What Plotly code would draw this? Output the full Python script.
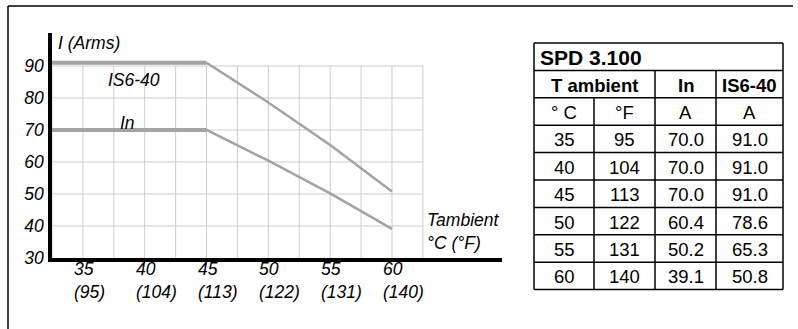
import plotly.graph_objects as go

# ---- data ----
temps_c = [35, 40, 45, 50, 55, 60]
temps_f = [95, 104, 113, 122, 131, 140]
in_vals = [70.0, 70.0, 70.0, 60.4, 50.2, 39.1]
is6_vals = [91.0, 91.0, 91.0, 78.6, 65.3, 50.8]
y_ticks = [30, 40, 50, 60, 70, 80, 90]
table_title = "SPD 3.100"
col_headers = ["T ambient", "In", "IS6-40"]
unit_row = ["° C", "°F", "A", "A"]

W, H = 798, 329
X0, X1 = 32.5, 68.9      # x axis range (data)
Y0, Y1 = 30, 100.3       # y axis range (data)
GRID_X = [32.5 + 2.5 * i for i in range(13)]
GRID_Y = [40, 50, 60, 70, 80, 90]

def px(x):
    return x / W

def py(y):
    return 1 - y / H

FONT = "Liberation Sans, Arial, sans-serif"
LINE_COL = "#a3a3a3"
GRID_COL = "#cccccc"
ISZ = 17.5   # italic chart text size
TSZ = 18.5   # table text size

fig = go.Figure()

# derating curves: flat part thicker, sloped part thinner
for vals in (is6_vals, in_vals):
    flat_x = [X0] + temps_c[:3]
    flat_y = [vals[0]] + vals[:3]
    fig.add_trace(go.Scatter(x=flat_x, y=flat_y, mode="lines",
                             line=dict(color=LINE_COL, width=4), hoverinfo="skip"))
    fig.add_trace(go.Scatter(x=temps_c[2:], y=vals[2:], mode="lines",
                             line=dict(color=LINE_COL, width=2.5), hoverinfo="skip"))

shapes = []
# grid
for gx in GRID_X:
    shapes.append(dict(type="line", xref="x", yref="y", x0=gx, x1=gx, y0=30, y1=90,
                       line=dict(color=GRID_COL, width=1), layer="below"))
for gy in GRID_Y:
    shapes.append(dict(type="line", xref="x", yref="y", x0=X0, x1=62.5, y0=gy, y1=gy,
                       line=dict(color=GRID_COL, width=1), layer="below"))

# outer frame (top and left lines)
shapes.append(dict(type="line", xref="paper", yref="paper", x0=px(8), x1=px(793),
                   y0=py(6), y1=py(6), line=dict(color="black", width=1.5)))
shapes.append(dict(type="line", xref="paper", yref="paper", x0=px(8), x1=px(8),
                   y0=py(6), y1=py(329), line=dict(color="black", width=1.5)))

annotations = []
ann_font = dict(family=FONT, size=ISZ, style="italic", color="black")
# x tick labels (two lines, left aligned)
for c, f in zip(temps_c, temps_f):
    annotations.append(dict(x=c, y=py(257), xref="x", yref="paper", xanchor="left",
                            yanchor="top", xshift=-11, align="left", showarrow=False,
                            text=f"{c}<br>({f})", font=ann_font))

annotations += [
    dict(x=px(56), y=py(43), xref="paper", yref="paper", xanchor="left", yanchor="middle",
         text="I (Arms)", showarrow=False, font=ann_font),
    dict(x=px(106), y=py(80), xref="paper", yref="paper", xanchor="left", yanchor="middle",
         text="IS6-40", showarrow=False, font=ann_font),
    dict(x=px(118), y=py(123), xref="paper", yref="paper", xanchor="left", yanchor="middle",
         text="In", showarrow=False, font=ann_font),
    dict(x=px(425), y=py(231), xref="paper", yref="paper", xanchor="left", yanchor="middle",
         align="left", text="Tambient<br>°C (°F)", showarrow=False, font=ann_font),
]

# ---- table drawn with shapes + text ----
col_x = [534, 594, 655, 716, 783]
top = 43
row_h = 27.4
n_rows = 3 + len(temps_c)
row_y = [top + i * row_h for i in range(n_rows + 1)]
bw = 1.5
def hline(x0, x1, y):
    shapes.append(dict(type="line", xref="paper", yref="paper", x0=px(x0), x1=px(x1),
                       y0=py(y), y1=py(y), line=dict(color="black", width=bw)))
def vline(x, y0, y1):
    shapes.append(dict(type="line", xref="paper", yref="paper", x0=px(x), x1=px(x),
                       y0=py(y0), y1=py(y1), line=dict(color="black", width=bw)))

for y in row_y:
    hline(col_x[0], col_x[-1], y)
vline(col_x[0], row_y[0], row_y[-1])
vline(col_x[-1], row_y[0], row_y[-1])
vline(col_x[1], row_y[2], row_y[-1])
vline(col_x[2], row_y[1], row_y[-1])
vline(col_x[3], row_y[1], row_y[-1])

def cell_text(text, xc, yc, bold=False, anchor="center", size=TSZ):
    annotations.append(dict(x=px(xc), y=py(yc), xref="paper", yref="paper",
                            xanchor=anchor, yanchor="middle", showarrow=False,
                            text=f"<b>{text}</b>" if bold else text,
                            font=dict(family=FONT, size=size, color="black")))

cell_text(table_title, col_x[0] + 4, (row_y[0] + row_y[1]) / 2 + 1, bold=True,
          anchor="left", size=21)
hdr_centers = [(col_x[0] + col_x[2]) / 2, (col_x[2] + col_x[3]) / 2, (col_x[3] + col_x[4]) / 2]
for t, xc in zip(col_headers, hdr_centers):
    cell_text(t, xc, (row_y[1] + row_y[2]) / 2 + 1, bold=True)
centers = [(col_x[i] + col_x[i + 1]) / 2 for i in range(4)]
for t, xc in zip(unit_row, centers):
    cell_text(t, xc, (row_y[2] + row_y[3]) / 2 + 1)
for r, (c, f, a, b) in enumerate(zip(temps_c, temps_f, in_vals, is6_vals)):
    yc = (row_y[3 + r] + row_y[4 + r]) / 2 + 1
    for t, xc in zip([str(c), str(f), f"{a:.1f}", f"{b:.1f}"], centers):
        cell_text(t, xc, yc)

fig.update_layout(
    width=W, height=H,
    margin=dict(l=0, r=0, t=0, b=0, pad=0, autoexpand=False),
    paper_bgcolor="white", plot_bgcolor="white",
    showlegend=False,
    xaxis=dict(domain=[px(52), px(502)], range=[X0, X1], showgrid=False, zeroline=False,
               showline=True, linecolor="black", linewidth=3.5, ticks="",
               showticklabels=False, fixedrange=True, automargin=False),
    yaxis=dict(domain=[py(258), py(33)], range=[Y0, Y1], showgrid=False, zeroline=False,
               showline=True, linecolor="black", linewidth=3.5, ticks="",
               tickvals=y_ticks, ticktext=[str(v) for v in y_ticks],
               tickfont=dict(family=FONT, size=ISZ, style="italic", color="black"),
               ticklabelstandoff=1, fixedrange=True, automargin=False),
    shapes=shapes,
    annotations=annotations,
)

post = ("document.body.style.margin='0';"
        "document.body.style.overflow='hidden';")
fig.write_html("out.html", post_script=post, config={"displayModeBar": False})
